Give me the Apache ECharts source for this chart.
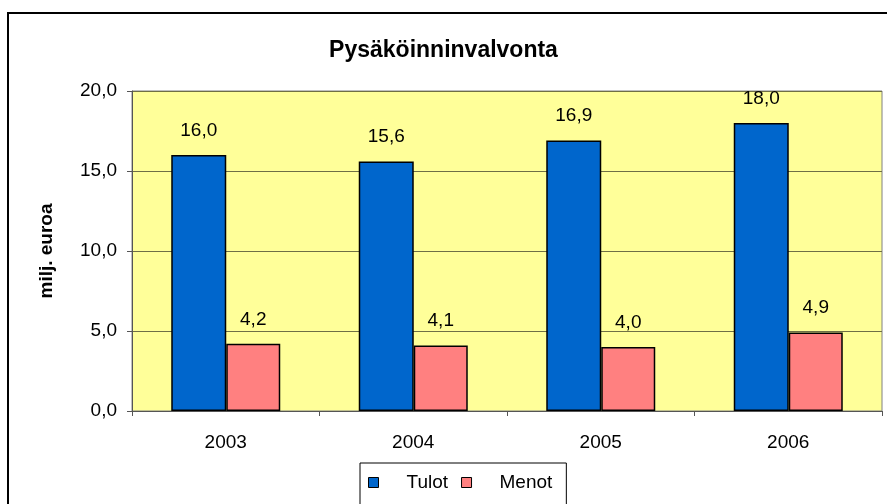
<!DOCTYPE html>
<html>
<head>
    <meta charset="UTF-8">
    <title>Pysäköinninvalvonta</title>
    <script src="https://cdn.jsdelivr.net/npm/echarts@6/dist/echarts.min.js" type="text/javascript"></script>
</head>
<body style="margin:0">
<div id="chart" style="width:887px;height:504px"></div>
<script type="text/javascript">
    var years = ['2003', '2004', '2005', '2006'];
    var tulot = [16.0, 15.6, 16.9, 18.0];
    var menot = [4.2, 4.1, 4.0, 4.9];
    var yTicks = [0, 5, 10, 15, 20];

    // desimaalipilkku
    function fmt(v) {
        return Number(v).toFixed(1).replace('.', ',');
    }

    var font = 'Liberation Sans, Arial, sans-serif';
    var fs = 19;
    var myChart = echarts.init(document.getElementById('chart'));

    var barLabel = {
        show: true,
        position: 'top',
        distance: 15,
        color: '#000',
        fontSize: fs,
        fontFamily: font,
        formatter: function (p) { return fmt(p.value); }
    };

    option = {
        animation: false,
        backgroundColor: '#fff',
        textStyle: { fontFamily: font },
        title: {
            text: 'Pysäköinninvalvonta',
            left: 'center',
            top: 34,
            textStyle: { fontSize: 23, fontWeight: 'bold', color: '#000', fontFamily: font }
        },
        graphic: [{
            type: 'rect',
            shape: { x: 8, y: 13, width: 900, height: 600 },
            style: { fill: 'none', stroke: '#000', lineWidth: 2 },
            silent: true
        }],
        legend: {
            data: ['Tulot', 'Menot'],
            left: 360,
            top: 463,
            orient: 'horizontal',
            icon: 'rect',
            itemWidth: 10,
            itemHeight: 10,
            itemGap: 13,
            padding: [10, 14, 30, 8],
            borderColor: '#000',
            borderWidth: 1,
            itemStyle: { borderColor: '#000', borderWidth: 1 },
            textStyle: { fontSize: fs, color: '#000', fontFamily: font, padding: [0, 0, 0, 23] }
        },
        grid: {
            left: 132,
            right: 5,
            top: 91,
            bottom: 93,
            show: true,
            backgroundColor: '#FFFF99',
            borderColor: '#808080',
            borderWidth: 1
        },
        xAxis: {
            type: 'category',
            data: years,
            axisLine: { lineStyle: { color: '#555', width: 1 } },
            axisTick: { show: true, length: 5, lineStyle: { color: '#555' } },
            axisLabel: { fontSize: fs, color: '#000', margin: 22, fontFamily: font }
        },
        yAxis: {
            type: 'value',
            min: yTicks[0],
            max: yTicks[yTicks.length - 1],
            interval: 5,
            name: 'milj. euroa',
            nameLocation: 'middle',
            nameGap: 76,
            nameTextStyle: { fontSize: fs, fontWeight: 'bold', color: '#000', fontFamily: font },
            axisLine: { show: true, lineStyle: { color: '#555', width: 1 } },
            axisTick: { show: true, length: 5, lineStyle: { color: '#555' } },
            axisLabel: {
                fontSize: fs, color: '#000', margin: 15, fontFamily: font,
                formatter: function (v) { return fmt(v); }
            },
            splitLine: { lineStyle: { color: '#6f6f45', width: 1 } }
        },
        series: [{
            name: 'Tulot',
            type: 'bar',
            data: tulot,
            barWidth: 55,
            barGap: '0%',
            itemStyle: { color: '#0066CC', borderColor: '#000', borderWidth: 1.5 },
            label: barLabel
        }, {
            name: 'Menot',
            type: 'bar',
            data: menot,
            barWidth: 54,
            itemStyle: { color: '#FF8080', borderColor: '#000', borderWidth: 1.5 },
            label: barLabel
        }]
    };
    myChart.setOption(option);
</script>
</body>
</html>
